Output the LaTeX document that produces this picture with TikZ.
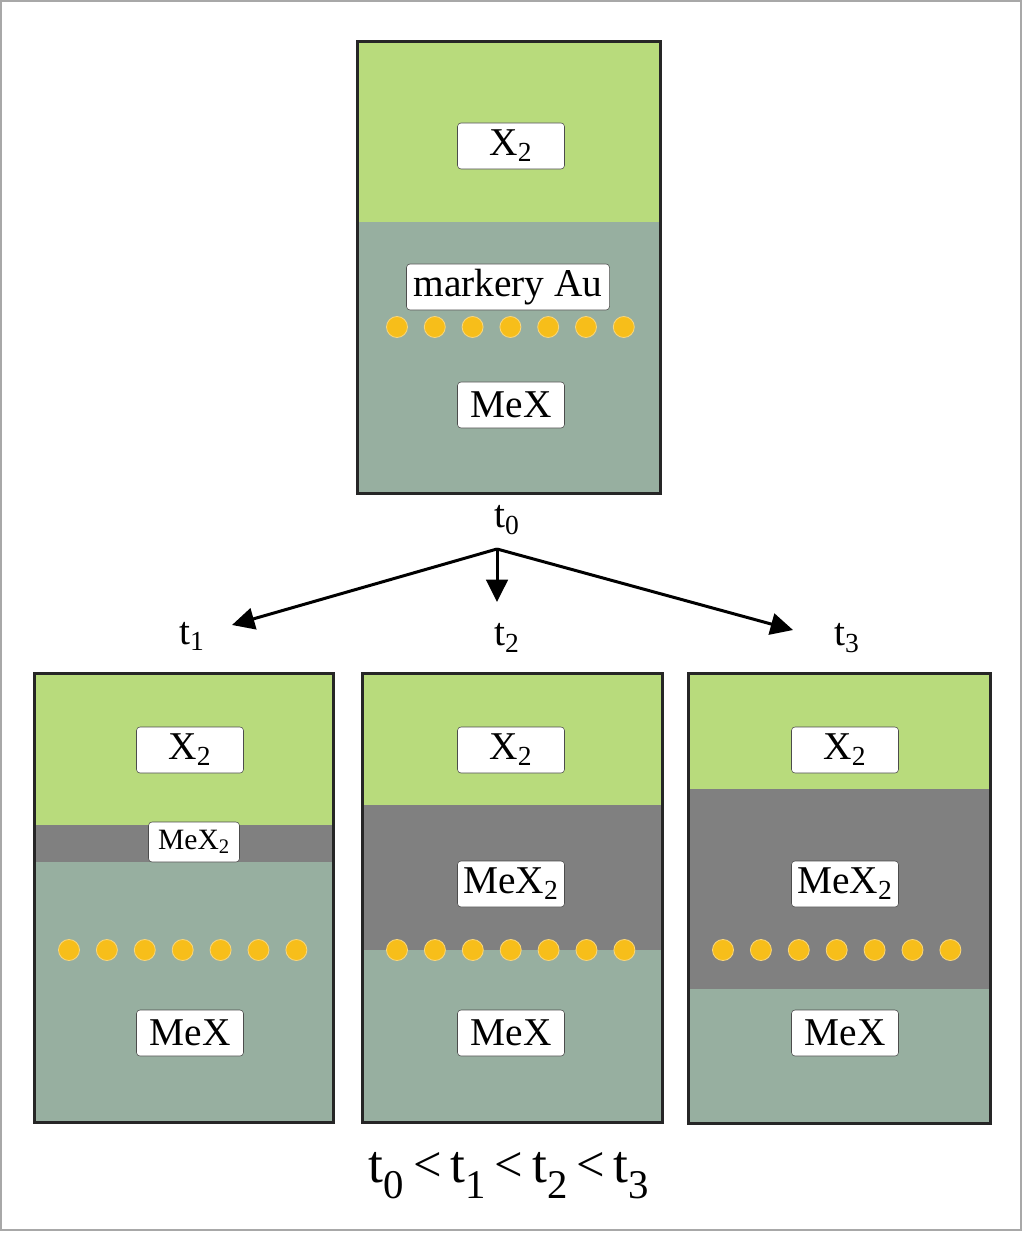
\documentclass[tikz,border=0pt]{standalone}
\usepackage{fontspec}
\setmainfont{Liberation Serif}
\usetikzlibrary{arrows.meta}
\definecolor{gasfill}{HTML}{B8DB7C}
\definecolor{saltfill}{HTML}{97AFA0}
\definecolor{scalefill}{HTML}{808080}
\definecolor{goldfill}{HTML}{F7BE1A}
\definecolor{golddraw}{HTML}{F9D67A}
\definecolor{framedraw}{HTML}{A8A8A8}
\newcommand\lowsub[1]{\raisebox{-0.3em}{\fontsize{29}{29}\selectfont #1}}
\newcommand\lessrel{\,\raisebox{0.02em}{\fontsize{36}{36}\selectfont <}\,}

\begin{document}
\begin{tikzpicture}[
    x=0.025cm, y=-0.025cm,
    >={Triangle[length=5.6mm, width=5.4mm]},
    layerbox/.style={draw=black!85, line width=0.075cm},
    tag/.style={draw=black!70, fill=white, rounded corners=2.5pt,
                minimum width=2.675cm, minimum height=1.15cm, inner sep=0pt,
                font=\fontsize{28}{30}\selectfont},
    smalltag/.style={tag, minimum width=2.275cm, minimum height=1cm,
                     font=\fontsize{21}{23}\selectfont},
    timelabel/.style={font=\fontsize{28}{30}\selectfont},
    marker/.style={fill=goldfill, draw=golddraw, line width=0.6pt},
    flow/.style={->, line width=0.075cm},
]
\useasboundingbox (0,0) rectangle (1024,1233);
\draw[framedraw, line width=0.8pt] (1,1) rectangle (1021,1230);

% ---------------- start sample ----------------
\fill[gasfill] (357,42) rectangle (660,222);
\fill[saltfill] (357,222) rectangle (660,493);
\draw[layerbox] (357,42) rectangle (660,493);
\foreach \k in {0,...,6}
  \draw[marker] (397+37.8*\k,327) circle (10.5);

\node[tag] (gas0) at (511,146) {X\textsubscript{2}};
\node[tag, minimum width=5.075cm] (au0) at (508,287) {markery Au};
\node[tag] (salt0) at (511,405) {MeX};

% ---------------- later samples ----------------
\foreach \xa/\xb/\ytop/\ygas/\yscale/\ybot/\ydots in
  {34/333/673/825/862/1122/950, 362/662/673/805/950/1122/950,
   688/990/673/789/989/1123/950}{
  \fill[gasfill] (\xa,\ytop) rectangle (\xb,\ygas);
  \fill[scalefill] (\xa,\ygas) rectangle (\xb,\yscale);
  \fill[saltfill] (\xa,\yscale) rectangle (\xb,\ybot);
  \draw[layerbox] (\xa,\ytop) rectangle (\xb,\ybot);
  \foreach \k in {0,...,6}
    \draw[marker] (\xa+35+37.9*\k,\ydots) circle (10.5);
}

\node[tag] (gas1) at (190,750) {X\textsubscript{2}};
\node[smalltag] (scale1) at (194,842) {MeX\textsubscript{2}};
\node[tag] (salt1) at (190,1033) {MeX};

\node[tag] (gas2) at (511,750) {X\textsubscript{2}};
\node[tag] (scale2) at (511,884) {MeX\textsubscript{2}};
\node[tag] (salt2) at (511,1033) {MeX};

\node[tag] (gas3) at (845,750) {X\textsubscript{2}};
\node[tag] (scale3) at (845,884) {MeX\textsubscript{2}};
\node[tag] (salt3) at (845,1033) {MeX};

% ---------------- time arrows ----------------
\node[timelabel] (t0) at (507,520) {t\textsubscript{0}};
\node[timelabel] (t1) at (192,636) {t\textsubscript{1}};
\node[timelabel] (t2) at (507,638) {t\textsubscript{2}};
\node[timelabel] (t3) at (847,638) {t\textsubscript{3}};

\coordinate (fork) at (497,549);
\coordinate (end1) at (232,625);
\coordinate (end2) at (497,602);
\coordinate (end3) at (793,630);
\foreach \e in {end1, end2, end3}
  \draw[flow] (fork) -- (\e);

\node[font=\fontsize{38}{40}\selectfont] (order) at (509,1176)
  {t\lowsub{0}\lessrel t\lowsub{1}\lessrel t\lowsub{2}\lessrel t\lowsub{3}};
\end{tikzpicture}
\end{document}
